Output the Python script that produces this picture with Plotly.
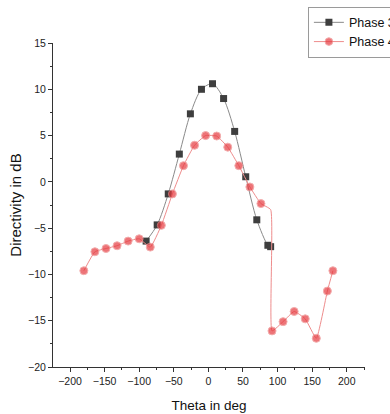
import plotly.graph_objects as go

# Directivity (dB) versus angle for two phases
theta_phase3 = [-90, -74, -58, -42, -26, -10, 6, 22, 38, 54, 70, 86, 90]
dir_phase3 = [-6.4, -4.65, -1.3, 3.0, 7.35, 10.0, 10.6, 9.0, 5.45, 0.55, -4.1, -6.85, -7.0]

theta_phase4 = [-180, -164, -148, -132, -116, -100, -84, -68, -52, -36, -20, -4, 12,
                28, 44, 60, 76, 90, 92, 108, 124, 140, 156, 172, 180]
dir_phase4 = [-9.6, -7.55, -7.2, -6.9, -6.4, -6.15, -7.05, -4.7, -1.3, 1.75, 3.95, 5.0, 4.95,
              3.75, 1.75, -0.55, -2.35, -3.0, -16.1, -15.1, -14.0, -14.8, -16.9, -11.8, -9.6]
# the 90 deg sample of phase 4 is a joint in the curve only, no symbol
marker_phase4 = [0 if t == 90 else 8 for t in theta_phase4]

font_family = "Liberation Sans, Arial, sans-serif"

fig = go.Figure()
fig.add_trace(go.Scatter(
    x=theta_phase3, y=dir_phase3, name="Phase 3", mode="lines+markers",
    line=dict(color="#8a8a8a", width=1, shape="spline", smoothing=0.8),
    marker=dict(symbol="square", size=7, color="#3e3e3e"),
))
fig.add_trace(go.Scatter(
    x=theta_phase4, y=dir_phase4, name="Phase 4", mode="lines+markers",
    line=dict(color="#ee8c8c", width=1, shape="spline", smoothing=0.4),
    marker=dict(symbol="circle", size=marker_phase4, color="#e63a3f"),
))

axis_common = dict(
    showgrid=False, zeroline=False, showline=True, linecolor="#333", linewidth=1,
    ticks="outside", ticklen=4, tickwidth=1, tickcolor="#333",
    tickfont=dict(family=font_family, size=10.5, color="#222"),
    minor=dict(ticks="outside", ticklen=2, tickwidth=1, tickcolor="#333"),
)

fig.update_xaxes(
    range=[-224.6, 226.4], tickmode="array",
    tickvals=[-200, -150, -100, -50, 0, 50, 100, 150, 200],
    minor_dtick=25, minor_tick0=0,
    title=dict(text="Theta in deg", font=dict(family=font_family, size=13.5, color="#111"), standoff=14),
    **axis_common,
)
fig.update_yaxes(
    range=[-20, 15], tickmode="array",
    tickvals=[-20, -15, -10, -5, 0, 5, 10, 15],
    minor_dtick=2.5, minor_tick0=0,
    title=dict(text="Directivity in dB", font=dict(family=font_family, size=15, color="#111"), standoff=2),
    **axis_common,
)

fig.update_layout(
    width=390, height=414,
    margin=dict(l=53, r=25, t=43, b=47, autoexpand=False),
    paper_bgcolor="white", plot_bgcolor="white",
    showlegend=True,
    legend=dict(
        x=0.817, y=1.112, xanchor="left", yanchor="top",
        bgcolor="white", bordercolor="#9a9a9a", borderwidth=1,
        font=dict(family=font_family, size=12.5, color="#111"),
        tracegroupgap=0, itemwidth=30,
    ),
)

fig.write_html("out.html")
